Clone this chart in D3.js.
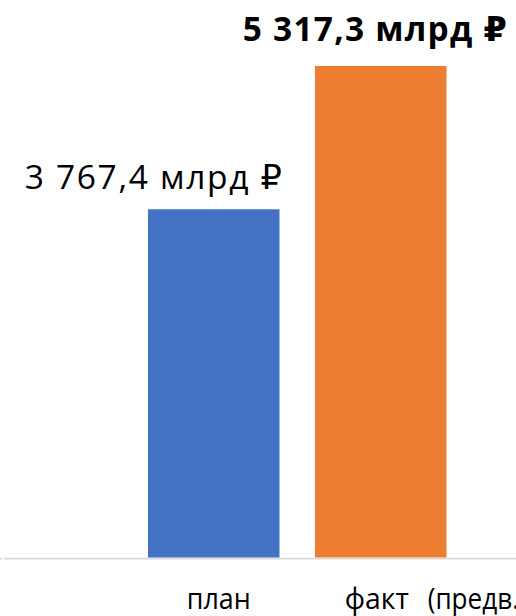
<!DOCTYPE html>
<html>
<head>
<meta charset="utf-8">
<script src="https://cdn.jsdelivr.net/npm/d3@7"></script>
<style>
  html, body { margin: 0; padding: 0; background: #fff; }
  svg { display: block; }
  text { font-family: "Open Sans", "DejaVu Sans", sans-serif; fill: #000; }
</style>
</head>
<body>
<script>
const categories = ["план", "факт"];
const categorySuffix = ["", "(предв.)"];
const values = [3767.4, 5317.3];
const valueLabels = ["3 767,4 млрд ₽", "5 317,3 млрд ₽"];
const colors = ["#4472C4", "#ED7D31"];

const W = 516, H = 616;
const svg = d3.select("body").append("svg").attr("width", W).attr("height", H);

const x = d3.scaleBand().domain(categories).range([64.5, 530]).paddingInner(0.2126).paddingOuter(0.5);
const y = d3.scaleLinear().domain([0, 6000]).range([557.5, 2.9]);

// axis line
svg.append("line").attr("x1", 4).attr("x2", W).attr("y1", 558.6).attr("y2", 558.6)
  .attr("stroke", "#d9d9d9").attr("stroke-width", 1.6);
svg.append("line").attr("x1", 0).attr("x2", 2).attr("y1", 558.6).attr("y2", 558.6)
  .attr("stroke", "#d9d9d9").attr("stroke-width", 1.6);

svg.selectAll("rect.bar").data(values).enter().append("rect")
  .attr("class", "bar")
  .attr("x", (d, i) => x(categories[i]))
  .attr("width", x.bandwidth())
  .attr("y", d => y(d))
  .attr("height", d => y(0) - y(d))
  .attr("fill", (d, i) => colors[i]);

// value labels
const labelDx = [-60.5, -6];
const labelDy = [-20.5, -25];
const labelLen = [257, 264];
svg.selectAll("text.val").data(values).enter().append("text")
  .attr("class", "val")
  .attr("x", (d, i) => x(categories[i]) + x.bandwidth() / 2 + labelDx[i])
  .attr("y", (d, i) => y(d) + labelDy[i])
  .attr("text-anchor", "middle")
  .attr("font-size", 33.5)
  .attr("font-weight", (d, i) => i === 1 ? "bold" : "normal")
  .attr("textLength", (d, i) => labelLen[i])
  .attr("lengthAdjust", "spacing")
  .text((d, i) => valueLabels[i]);

// category labels
const catDx = [-27, -36];
const cats = svg.selectAll("text.cat").data(categories).enter().append("text")
  .attr("class", "cat")
  .attr("x", (d, i) => x(d) + x.bandwidth() / 2 + catDx[i])
  .attr("y", 609)
  .attr("text-anchor", "start")
  .attr("font-size", 30);
cats.append("tspan")
  .attr("textLength", 64)
  .attr("lengthAdjust", "spacingAndGlyphs")
  .text(d => d);
cats.filter((d, i) => categorySuffix[i] !== "").append("tspan")
  .attr("dx", 19)
  .attr("textLength", 99)
  .attr("lengthAdjust", "spacingAndGlyphs")
  .text((d) => categorySuffix[categories.indexOf(d)]);
</script>
</body>
</html>
